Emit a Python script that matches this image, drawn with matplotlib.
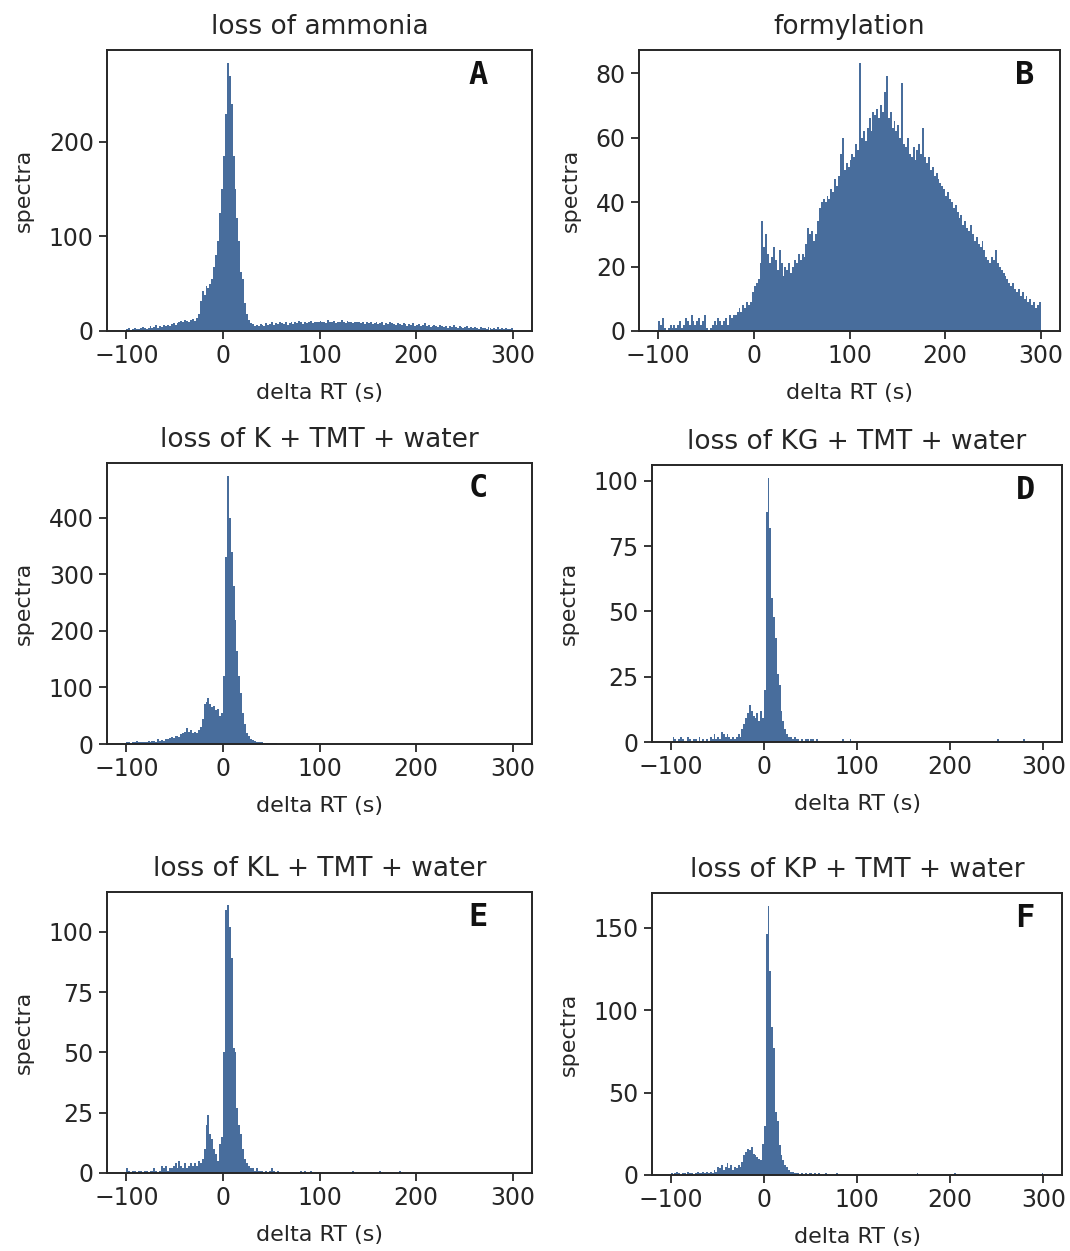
import matplotlib
matplotlib.use("Agg")
import matplotlib.pyplot as plt
import numpy as np

# 2 s bins from -100 to 300 s
bin_edges = np.arange(-100, 301, 2)
bin_centers = bin_edges[:-1] + 1
x_ticks = [-100, 0, 100, 200, 300]

counts_ammonia = (
    [2, 3, 1, 2, 3, 2, 2, 3, 4, 3, 2, 3, 5, 3, 4, 6, 3, 5, 4, 6]
    + [5, 6, 5, 7, 8, 6, 8, 10, 11, 9, 12, 11, 10, 12, 13, 11, 14, 18, 32, 42]
    + [38, 48, 45, 50, 55, 68, 80, 95, 125, 150, 185, 230, 283, 270, 240, 185, 150, 120, 95, 62]
    + [55, 30, 18, 12, 8, 7, 5, 6, 5, 7, 6, 5, 8, 6, 7, 9, 6, 8, 7, 9]
    + [8, 7, 9, 6, 8, 10, 7, 9, 8, 11, 9, 7, 10, 8, 9, 11, 8, 10, 9, 10]
    + [11, 9, 10, 8, 12, 9, 10, 11, 8, 10, 9, 12, 10, 8, 11, 9, 10, 8, 9, 10]
    + [9, 8, 10, 7, 9, 8, 9, 7, 8, 9, 7, 8, 9, 6, 8, 7, 9, 8, 7, 6]
    + [8, 7, 6, 8, 7, 5, 7, 6, 8, 5, 6, 7, 5, 6, 8, 5, 6, 4, 5, 6]
    + [5, 4, 6, 5, 4, 5, 3, 5, 4, 6, 4, 3, 5, 4, 3, 4, 5, 3, 4, 3]
    + [4, 3, 2, 4, 3, 3, 2, 4, 3, 2, 3, 2, 4, 2, 3, 2, 3, 2, 2, 3]
)

counts_formylation = (
    [3, 2, 4, 1, 0, 1, 2, 1, 2, 1, 2, 3, 1, 2, 4, 3, 2, 5, 3, 2]
    + [3, 4, 2, 3, 5, 1, 0, 1, 2, 3, 2, 4, 3, 2, 3, 4, 2, 5, 4, 5]
    + [5, 6, 7, 6, 8, 7, 9, 8, 9, 12, 14, 15, 16, 21, 34, 26, 30, 24, 21, 23]
    + [26, 22, 19, 25, 21, 17, 20, 19, 21, 18, 20, 22, 21, 24, 22, 24, 23, 27, 32, 30]
    + [31, 28, 30, 34, 38, 40, 41, 40, 42, 41, 44, 43, 47, 45, 48, 55, 60, 50, 52, 51]
    + [53, 55, 54, 58, 56, 83, 60, 62, 59, 63, 66, 62, 68, 67, 69, 66, 70, 68, 74, 79]
    + [66, 68, 63, 65, 62, 64, 60, 77, 58, 57, 60, 55, 54, 57, 53, 56, 58, 55, 63, 54]
    + [52, 54, 50, 51, 48, 49, 47, 46, 45, 44, 42, 43, 41, 40, 38, 39, 37, 35, 36, 33]
    + [34, 32, 31, 33, 30, 28, 29, 27, 26, 28, 25, 23, 22, 21, 23, 22, 25, 21, 20, 19]
    + [18, 17, 16, 15, 14, 15, 13, 12, 13, 11, 12, 10, 11, 9, 10, 8, 9, 7, 8, 9]
)

counts_k = (
    [4, 3, 2, 4, 3, 5, 3, 4, 4, 3, 4, 5, 3, 5, 6, 4, 8, 5, 7, 6]
    + [9, 8, 10, 12, 11, 14, 15, 13, 18, 20, 22, 28, 22, 25, 20, 22, 20, 24, 30, 45]
    + [70, 75, 82, 70, 65, 68, 60, 62, 50, 55, 120, 330, 473, 400, 340, 280, 220, 165, 120, 90]
    + [55, 35, 20, 14, 9, 7, 5, 4, 3, 4, 3, 2, 2, 1, 2, 1, 2, 1, 0, 0]
    + [0] * 20 + [0] * 20 + [0] * 20 + [0] * 20 + [0] * 20 + [0] * 20
)

counts_kg = (
    [0, 2, 1, 0, 1, 2, 1, 0, 0, 2, 1, 0, 1, 1, 0, 2, 0, 1, 0, 1]
    + [0, 2, 1, 3, 1, 2, 1, 4, 3, 2, 3, 2, 1, 2, 1, 2, 3, 2, 5, 7]
    + [9, 11, 14, 12, 10, 9, 11, 8, 12, 9, 20, 88, 101, 82, 55, 48, 40, 26, 22, 12]
    + [8, 5, 3, 2, 2, 1, 2, 1, 1, 0, 1, 0, 1, 1, 0, 1, 1, 0, 1, 0]
    + [0, 0, 0, 0, 0, 0, 0, 0, 0, 0, 0, 0, 1, 0, 0, 0, 1, 0, 0, 0]
    + [0] * 20 + [0] * 20 + [0] * 20
    + [0, 0, 0, 0, 0, 0, 0, 0, 0, 0, 0, 0, 0, 0, 0, 1, 0, 0, 0, 0]
    + [0, 0, 0, 0, 0, 0, 0, 0, 0, 1, 0, 0, 0, 0, 0, 0, 0, 0, 0, 0]
)

counts_kl = (
    [2, 1, 0, 1, 1, 0, 1, 1, 0, 1, 1, 0, 1, 1, 2, 1, 0, 1, 3, 2]
    + [3, 1, 2, 2, 3, 4, 2, 5, 3, 2, 4, 2, 3, 4, 3, 4, 3, 5, 4, 6]
    + [10, 20, 24, 16, 14, 10, 8, 5, 12, 15, 50, 109, 111, 102, 89, 52, 50, 27, 20, 16]
    + [10, 6, 4, 3, 2, 2, 1, 2, 1, 1, 1, 0, 1, 0, 1, 2, 1, 0, 1, 0]
    + [0, 0, 0, 0, 0, 0, 0, 0, 0, 0, 1, 0, 1, 0, 0, 1, 0, 0, 0, 0]
    + [0, 0, 0, 0, 0, 0, 0, 0, 0, 0, 0, 0, 0, 0, 0, 0, 0, 1, 0, 0]
    + [0, 0, 0, 0, 0, 0, 0, 0, 0, 0, 0, 1, 0, 0, 0, 0, 0, 0, 0, 0]
    + [0, 1, 0, 0, 0, 0, 0, 0, 0, 0, 0, 0, 0, 0, 0, 0, 0, 0, 0, 0]
    + [0] * 20 + [0] * 20
)

counts_kp = (
    [1, 0, 1, 2, 1, 0, 1, 1, 0, 2, 1, 1, 0, 1, 2, 1, 1, 2, 1, 2]
    + [1, 2, 1, 3, 2, 5, 4, 6, 3, 5, 7, 4, 6, 3, 5, 4, 6, 5, 8, 12]
    + [14, 16, 15, 17, 13, 12, 11, 10, 9, 19, 30, 146, 163, 124, 90, 77, 38, 33, 18, 12]
    + [9, 6, 5, 3, 2, 2, 1, 1, 1, 0, 1, 0, 1, 0, 1, 1, 0, 1, 0, 1]
    + [0, 0, 0, 1, 0, 0, 0, 0, 0, 1, 0, 0, 0, 0, 0, 0, 0, 0, 0, 0]
    + [0] * 20
    + [0, 0, 0, 0, 0, 0, 0, 0, 0, 0, 0, 0, 1, 0, 0, 0, 0, 0, 0, 0]
    + [0, 0, 0, 0, 0, 0, 0, 0, 0, 0, 0, 0, 1, 0, 0, 0, 0, 0, 0, 0]
    + [0] * 20
    + [0, 0, 0, 0, 0, 0, 0, 0, 0, 0, 0, 0, 0, 0, 0, 0, 0, 0, 0, 1]
)

titles = ["loss of ammonia", "formylation", "loss of K + TMT + water",
          "loss of KG + TMT + water", "loss of KL + TMT + water",
          "loss of KP + TMT + water"]
letters = ["A", "B", "C", "D", "E", "F"]
all_counts = [counts_ammonia, counts_formylation, counts_k,
              counts_kg, counts_kl, counts_kp]

# axes boxes in pixels: left, top, right, bottom
boxes = [(107, 50, 532, 331), (639, 50, 1060, 331),
         (107, 463, 532, 744), (652, 465, 1062, 742),
         (107, 892, 532, 1173), (652, 893, 1062, 1175)]
letter_x = [0.874, 0.917, 0.874, 0.911, 0.874, 0.909]

W, H = 1070, 1251
ink = "#262626"
bar_color = "#486d9c"

fig = plt.figure(figsize=(W / 100, H / 100), dpi=100)

for i in range(6):
    l, t, r, b = boxes[i]
    ax = fig.add_axes([l / W, 1 - b / H, (r - l) / W, (b - t) / H])
    ax.hist(bin_centers, bins=bin_edges, weights=all_counts[i],
            color=bar_color, edgecolor="none")
    ax.set_xticks(x_ticks)
    ax.set_title(titles[i], fontsize=19, color=ink, pad=11.5)
    ax.set_xlabel("delta RT (s)", fontsize=16, color=ink, labelpad=11)
    ax.set_ylabel("spectra", fontsize=16, color=ink, labelpad=11)
    ax.tick_params(direction="out", length=6, width=1.3, labelsize=17,
                   colors=ink)
    for s in ax.spines.values():
        s.set_linewidth(1.4)
        s.set_color(ink)
    ax.text(letter_x[i], 0.908, letters[i], transform=ax.transAxes,
            ha="center", va="center", fontsize=23, fontweight="bold",
            family="DejaVu Sans Mono", color="#111111")

plt.savefig("out.png", dpi=100)
